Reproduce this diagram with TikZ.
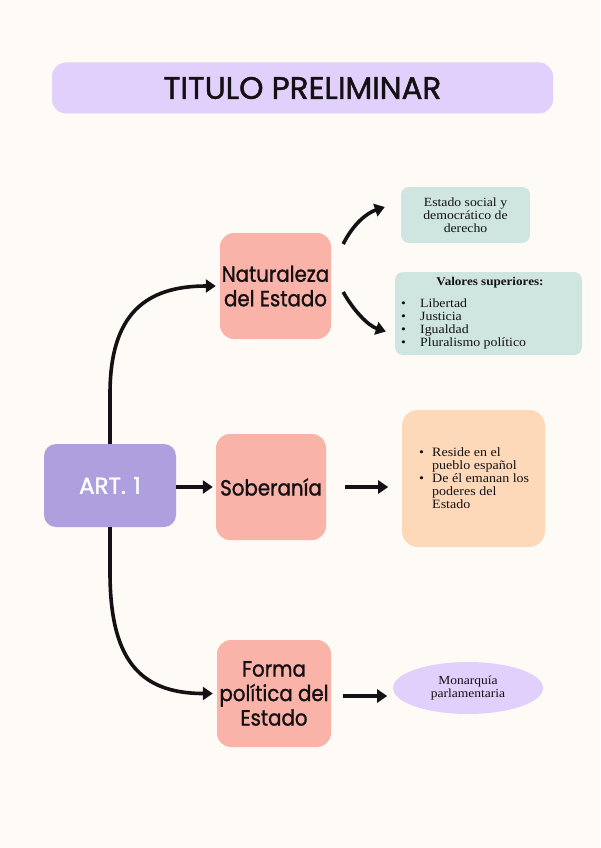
\documentclass[tikz,border=0pt]{standalone}
\usepackage{fontspec}
\setmainfont[FakeStretch=1.1]{Liberation Serif}
\newfontfamily\hand[FakeStretch=0.9,FakeBold=1.2]{Poppins}
\newfontfamily\handtitle[FakeStretch=1.0,FakeBold=1.4]{Poppins}
\usetikzlibrary{arrows.meta,shapes.geometric}
\definecolor{bgc}{HTML}{FEFAF6}
\definecolor{lav}{HTML}{E0D0FB}
\definecolor{salmon}{HTML}{F9B3A8}
\definecolor{purp}{HTML}{AE9FDF}
\definecolor{mint}{HTML}{CEE6DF}
\definecolor{peach}{HTML}{FDD9B9}
\definecolor{ink}{HTML}{141014}
\begin{document}
\begin{tikzpicture}[x=1pt,y=-1pt,
  every node/.style={inner sep=0pt, text=ink},
  handbox/.style={fill=salmon, rounded corners=14pt, minimum width=111pt, minimum height=106pt, align=center, font=\hand\fontsize{22}{24.5}\selectfont},
  mintbox/.style={fill=mint, rounded corners=8pt},
  arr/.style={draw=ink, line width=3.6pt, -{Triangle[length=10pt,width=13pt]}},
  serif/.style={font=\fontsize{12.5}{13}\selectfont, align=center}
]
\fill[bgc] (0,0) rectangle (600,848);
\useasboundingbox (0,0) rectangle (600,848);
\node[fill=lav, rounded corners=14pt, minimum width=501pt, minimum height=51pt, font=\handtitle\fontsize{31}{33}\selectfont] (title) at (302.5,88) {TITULO PRELIMINAR};
\node[handbox] (nat) at (275.5,286) {Naturaleza\\del Estado};
\node[handbox, minimum width=110pt] (sob) at (271,487) {Soberanía};
\node[handbox, minimum width=114pt, minimum height=107pt] (forma) at (274,693.5) {Forma\\política del\\Estado};
\node[fill=purp, rounded corners=12pt, minimum width=132pt, minimum height=83pt, text=white, font=\handtitle\fontsize{23}{26}\selectfont] (art) at (110,485.5) {ART.\,\,1};
\node[mintbox, minimum width=129pt, minimum height=56pt, serif] (est) at (465.5,215) {Estado social y\\democrático de\\derecho};
\node[mintbox, minimum width=187pt, minimum height=83pt] (val) at (488.5,313.5) {};
\node[font=\bfseries\fontsize{11.9}{13}\selectfont] (valt) at (490,283) {Valores superiores:};
\node[anchor=north west, align=left, font=\fontsize{12.6}{12.7}\selectfont] (vall) at (401,299) {\makebox[19pt][l]{•}Libertad\\\makebox[19pt][l]{•}Justicia\\\makebox[19pt][l]{•}Igualdad\\\makebox[19pt][l]{•}Pluralismo político};
\node[fill=peach, rounded corners=16pt, minimum width=143pt, minimum height=137pt] (sobr) at (473.5,478.5) {};
\node[anchor=north west, align=left, font=\fontsize{12.75}{13}\selectfont] (sobl) at (419,447) {\makebox[13pt][l]{•}Reside en el\\\hspace*{13pt}pueblo español\\\makebox[13pt][l]{•}De él emanan los\\\hspace*{13pt}poderes del\\\hspace*{13pt}Estado};
\node[ellipse, fill=lav, minimum width=150pt, minimum height=52pt, align=center, font=\fontsize{12.3}{13}\selectfont] (mon) at (468,688) {Monarquía\\parlamentaria};
\draw[arr] (art.north) -- ++(0,-50) .. controls +(0,-80) and +(-70,0) .. ([xshift=-4pt]nat.west);
\draw[arr] (art.east |- sob.west) -- ([xshift=-3pt]sob.west);
\draw[arr] (art.south) -- ++(0,45) .. controls +(0,85) and +(-75,0) .. ([xshift=-4pt]forma.west);
\draw[arr] ([shift={(12,-42)}]nat.east) .. controls +(10,-20) and +(-18,6) .. ([shift={(-16,-8)}]est.west);
\draw[arr] ([shift={(12,6)}]nat.east) .. controls +(10,18) and +(-18,-6) .. ([shift={(-9,18)}]val.west);
\draw[arr] ([xshift=19pt]sob.east) -- ([xshift=62pt]sob.east);
\draw[arr] ([shift={(12,2.5)}]forma.east) -- ([shift={(56,2.5)}]forma.east);
\end{tikzpicture}
\end{document}
